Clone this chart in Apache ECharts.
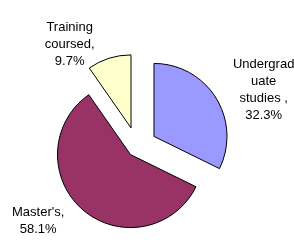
<!DOCTYPE html>
<html>
<head>
<meta charset="utf-8">
<style>
  html, body { margin: 0; padding: 0; background: #fff; }
  #chart { width: 294px; height: 244px; }
</style>
<script src="https://cdn.jsdelivr.net/npm/echarts@6/dist/echarts.min.js"></script>
</head>
<body>
<div id="chart"></div>
<script>
// categories as wrapped in the original chart, in clockwise order from 12 o'clock
var categories = ['Undergrad\nuate\nstudies ', "Master's", 'Training\ncoursed'];
var shares = [32.3, 58.1, 9.7];
var colors = ['#9999FF', '#993366', '#FFFFCC'];

// where each label block sits (centre of text)
var labelPos = [[260, 74], [46, 229], [72, 31]];

var chart = echarts.init(document.getElementById('chart'));

function pieData(visible) {
    var data = [];
    for (var i = 0; i < categories.length; i++) {
        var show = visible.indexOf(i) >= 0;
        data.push({
            name: categories[i],
            value: shares[i],
            selected: show,
            itemStyle: show ? { color: colors[i], borderColor: '#000', borderWidth: 1 }
                            : { color: 'rgba(0,0,0,0)', borderWidth: 0 },
            label: { show: show }
        });
    }
    return data;
}

var common = {
    type: 'pie',
    center: [137, 147],
    radius: [0, 73],
    startAngle: 90,
    clockwise: true,
    selectedMode: 'multiple',
    silent: true,
    animation: false,
    label: {
        position: 'outside',
        alignTo: 'none',
        overflow: 'none',
        edgeDistance: 0,
        formatter: '{b},\n{c}%',
        color: '#000',
        fontFamily: 'Liberation Sans, Arial, sans-serif',
        fontSize: 13,
        lineHeight: 17,
        align: 'center'
    },
    labelLine: { show: false },
    labelLayout: function (params) {
        var p = labelPos[params.dataIndex];
        return { x: p[0], y: p[1], align: 'center', verticalAlign: 'middle', moveOverlap: null };
    },
    emphasis: { disabled: true }
};

chart.setOption({
    backgroundColor: '#fff',
    series: [
        Object.assign({}, common, { selectedOffset: 20, data: pieData([0, 2]) }),
        Object.assign({}, common, { selectedOffset: 10, data: pieData([1]) })
    ]
});
</script>
</body>
</html>
